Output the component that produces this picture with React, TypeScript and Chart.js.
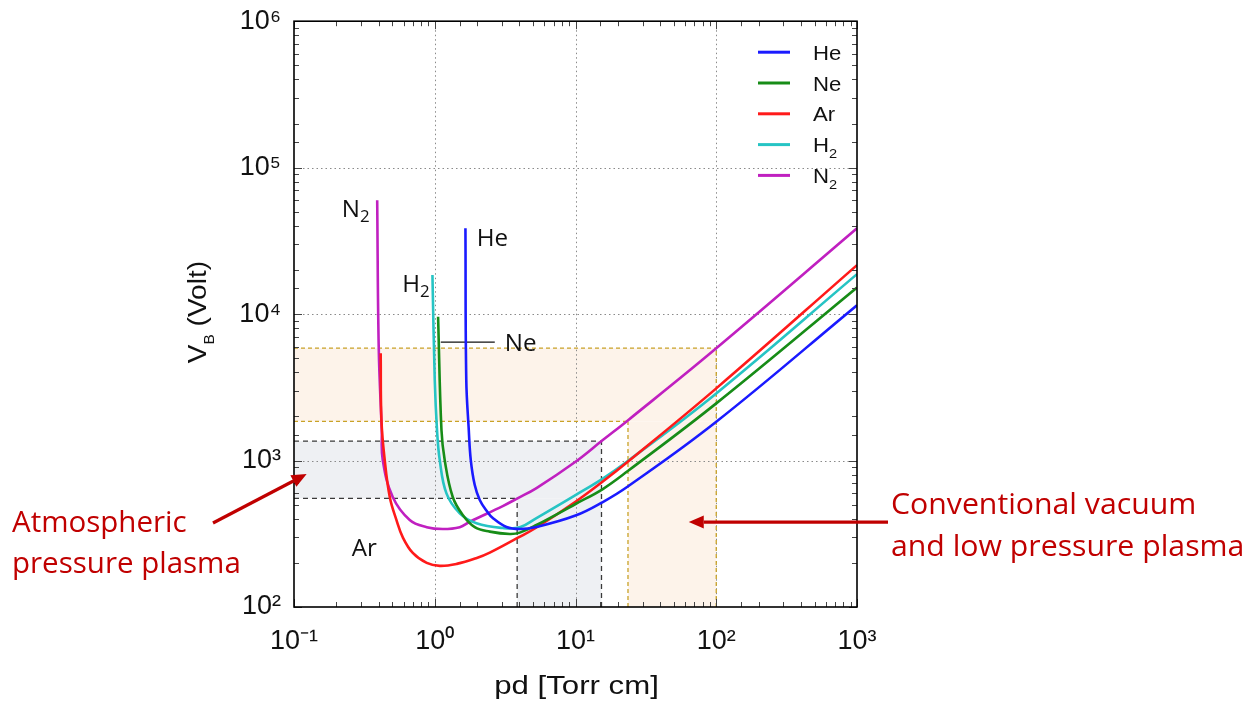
import React, { useEffect, useRef } from "react";
import { Chart, registerables } from "chart.js";

Chart.register(...registerables);

// ---------- data ----------
const gasLabels = ["He", "Ne", "Ar", "H₂", "N₂"];
const gasColors = ["#1a1aff", "#178c17", "#ff1a1a", "#26c4c4", "#c020c0"];

const heX = [1.652, 1.675, 1.745, 1.803, 1.924, 2.088, 2.342, 2.584, 3.233, 4.019, 5.283, 10, 15.63, 23.53, 100, 1000];
const heY = [38500, 3545, 1615, 1008, 680, 538, 452, 405, 352, 341, 352, 421, 521, 665, 1840, 11500];

const neX = [1.056, 1.116, 1.178, 1.342, 1.581, 1.924, 2.46, 3.413, 4.019, 5.283, 10, 15.63, 23.53, 100, 1000];
const neY = [9600, 1615, 1000, 564, 425, 351, 327, 315, 322, 363, 505, 639, 848, 2457, 15200];

const arX = [0.413, 0.418, 0.441, 0.479, 0.534, 0.592, 0.698, 0.877, 1.085, 1.433, 1.99, 2.46, 3.87, 5.283, 10, 15.63, 23.53, 100, 1000];
const arY = [5400, 1890, 1010, 564, 393, 300, 234, 200, 191, 197, 216, 235, 296, 349, 523, 719, 981, 3110, 21600];

const h2X = [0.963, 1.0, 1.038, 1.085, 1.211, 1.505, 1.979, 3.043, 4.019, 5.283, 10, 15.63, 23.53, 100, 1000];
const h2Y = [18500, 3545, 1615, 1008, 597, 436, 373, 346, 350, 405, 581, 753, 992, 2875, 18750];

const n2X = [0.39, 0.4, 0.42, 0.427, 0.503, 0.664, 0.877, 1.14, 1.505, 1.774, 3.043, 3.87, 5.283, 10, 15.63, 23.53, 100, 1000];
const n2Y = [60000, 5860, 1615, 1008, 564, 393, 351, 341, 351, 382, 489, 552, 649, 981, 1380, 1880, 5840, 38500];

const seriesX = [heX, neX, arX, h2X, n2X];
const seriesY = [heY, neY, arY, h2Y, n2Y];

// axis ranges
const xRange = [0.1, 1000];
const yRange = [100, 1e6];

// highlighted regions (data units)
const vacuumBandX = [0.1, 100];
const vacuumBandY = [1850, 5850];
const vacuumColX = [23.6, 100];
const vacuumColY = [100, 1850];
const atmBandX = [0.1, 15.3];
const atmBandY = [552, 1358];
const atmColX = [3.85, 15.3];
const atmColY = [100, 552];

// curve labels: [text, x, y, align]
const curveLabels: [string, number, number, string][] = [
  ["N₂", 0.345, 52900, "right"],
  ["H₂", 0.922, 16280, "right"],
  ["He", 1.99, 33500, "left"],
  ["Ne", 3.145, 6440, "left"],
  ["Ar", 0.257, 253, "left"],
];
const nePointerX = [1.103, 2.67];
const nePointerY = 6440;

const atmArrowTip = [0.123, 809];
const vacArrowTip = [63.8, 380];

const atmText = ["Atmospheric", "pressure plasma"];
const vacText = ["Conventional vacuum", "and low pressure plasma"];

const xTitle = "pd [Torr cm]";

// ---------- helpers ----------
const SUB = "₀₁₂₃₄₅₆₇₈₉";
const SUP: Record<string, string> = { "-": "⁻", "0": "⁰", "1": "¹", "2": "²", "3": "³", "4": "⁴", "5": "⁵", "6": "⁶", "7": "⁷", "8": "⁸", "9": "⁹" };

type Part = { t: string; sub?: boolean };

function toParts(text: string): Part[] {
  const out: Part[] = [];
  for (const ch of text) {
    const i = SUB.indexOf(ch);
    const sub = i >= 0;
    const c = sub ? String(i) : ch;
    const last = out[out.length - 1];
    if (last && !!last.sub === sub) last.t += c;
    else out.push({ t: c, sub });
  }
  return out;
}

function drawRich(
  ctx: CanvasRenderingContext2D,
  parts: Part[],
  x: number,
  y: number,
  size: number,
  family: string,
  color: string,
  align: string = "left",
  sx: number = 1,
  subScale: number = 0.62,
  subDrop: number = 0.28
) {
  ctx.save();
  ctx.fillStyle = color;
  ctx.textBaseline = "alphabetic";
  ctx.textAlign = "left";
  const fonts = parts.map((p) => `${p.sub ? size * subScale : size}px ${family}`);
  const widths = parts.map((p, i) => {
    ctx.font = fonts[i];
    return ctx.measureText(p.t).width * sx;
  });
  const total = widths.reduce((a, b) => a + b, 0);
  let cx = align === "left" ? x : align === "right" ? x - total : x - total / 2;
  parts.forEach((p, i) => {
    ctx.font = fonts[i];
    ctx.save();
    ctx.translate(cx, y + (p.sub ? size * subDrop : 0));
    ctx.scale(sx, 1);
    ctx.fillText(p.t, 0, 0);
    ctx.restore();
    cx += widths[i];
  });
  ctx.restore();
}

function supLabel(v: number): string {
  const l = Math.log10(v);
  const e = Math.round(l);
  if (Math.abs(l - e) > 1e-6) return "";
  return "10" + String(e).split("").map((c) => SUP[c]).join("");
}

function arrow(ctx: CanvasRenderingContext2D, x0: number, y0: number, x1: number, y1: number, color: string) {
  const ang = Math.atan2(y1 - y0, x1 - x0);
  const hl = 15, hw = 6.5;
  const bx = x1 - hl * Math.cos(ang), by = y1 - hl * Math.sin(ang);
  ctx.save();
  ctx.strokeStyle = color;
  ctx.fillStyle = color;
  ctx.lineWidth = 3.2;
  ctx.beginPath();
  ctx.moveTo(x0, y0);
  ctx.lineTo(bx, by);
  ctx.stroke();
  ctx.beginPath();
  ctx.moveTo(x1, y1);
  ctx.lineTo(bx + hw * Math.sin(ang), by - hw * Math.cos(ang));
  ctx.lineTo(bx - hw * Math.sin(ang), by + hw * Math.cos(ang));
  ctx.closePath();
  ctx.fill();
  ctx.restore();
}

const SANS = "'Liberation Sans', Arial, sans-serif";
const CAL = "'Open Sans', sans-serif";
const DARKRED = "#c00000";

const annotPlugin = {
  id: "annot",
  beforeDatasetsDraw(chart: any) {
    const { ctx, chartArea: a, scales } = chart;
    const X = (v: number) => scales.x.getPixelForValue(v);
    const Y = (v: number) => scales.y.getPixelForValue(v);
    ctx.save();
    ctx.beginPath();
    ctx.rect(a.left, a.top, a.right - a.left, a.bottom - a.top);
    ctx.clip();
    const box = (bx: number[], by: number[], c: string) => {
      ctx.fillStyle = c;
      const x0 = X(bx[0]), x1 = X(bx[1]), y0 = Y(by[1]), y1 = Y(by[0]);
      ctx.fillRect(x0, y0, x1 - x0, y1 - y0);
    };
    box(vacuumBandX, vacuumBandY, "#fdf3ea");
    box(vacuumColX, vacuumColY, "#fdf3ea");
    box(atmBandX, atmBandY, "#eef0f3");
    box(atmColX, atmColY, "#eef0f3");

    // dotted major grid
    ctx.strokeStyle = "#8a8a8a";
    ctx.lineWidth = 1;
    ctx.setLineDash([1.5, 3]);
    scales.x.ticks.forEach((t: any) => {
      if (!supLabel(t.value) || t.value <= xRange[0] || t.value >= xRange[1]) return;
      const px = Math.round(X(t.value)) + 0.5;
      ctx.beginPath();
      ctx.moveTo(px, a.top);
      ctx.lineTo(px, a.bottom);
      ctx.stroke();
    });
    scales.y.ticks.forEach((t: any) => {
      if (!supLabel(t.value) || t.value <= yRange[0] || t.value >= yRange[1]) return;
      const py = Math.round(Y(t.value)) + 0.5;
      ctx.beginPath();
      ctx.moveTo(a.left, py);
      ctx.lineTo(a.right, py);
      ctx.stroke();
    });

    const seg = (x0: number, y0: number, x1: number, y1: number) => {
      ctx.beginPath();
      ctx.moveTo(X(x0), Y(y0));
      ctx.lineTo(X(x1), Y(y1));
      ctx.stroke();
    };
    // gold dashed (vacuum)
    ctx.strokeStyle = "#c9a227";
    ctx.lineWidth = 1.3;
    ctx.setLineDash([4, 3]);
    seg(vacuumBandX[0], vacuumBandY[1], vacuumBandX[1], vacuumBandY[1]);
    seg(vacuumBandX[0], vacuumBandY[0], vacuumColX[0], vacuumBandY[0]);
    seg(vacuumColX[0], vacuumColY[0], vacuumColX[0], vacuumBandY[0]);
    seg(vacuumColX[1], vacuumColY[0], vacuumColX[1], vacuumBandY[1]);
    // black dashed (atmospheric)
    ctx.strokeStyle = "#3a3a3a";
    ctx.lineWidth = 1.3;
    ctx.setLineDash([5, 4]);
    seg(atmBandX[0], atmBandY[1], atmBandX[1], atmBandY[1]);
    seg(atmBandX[0], atmBandY[0], atmColX[0], atmBandY[0]);
    seg(atmColX[0], atmColY[0], atmColX[0], atmBandY[0]);
    seg(atmColX[1], atmColY[0], atmColX[1], atmBandY[1]);
    ctx.setLineDash([]);

    // Ne pointer
    ctx.strokeStyle = "#111";
    ctx.lineWidth = 1.3;
    seg(nePointerX[0], nePointerY, nePointerX[1], nePointerY);
    ctx.restore();
  },
  afterDatasetsDraw(chart: any) {
    const { ctx, chartArea: a, scales } = chart;
    const X = (v: number) => scales.x.getPixelForValue(v);
    const Y = (v: number) => scales.y.getPixelForValue(v);
    ctx.save();
    // tick marks (inside, all four sides)
    ctx.strokeStyle = "#444";
    ctx.lineWidth = 1;
    scales.x.ticks.forEach((t: any) => {
      const px = Math.round(X(t.value)) + 0.5;
      const len = supLabel(t.value) ? 8 : 5;
      ctx.beginPath();
      ctx.moveTo(px, a.bottom);
      ctx.lineTo(px, a.bottom - len);
      ctx.moveTo(px, a.top);
      ctx.lineTo(px, a.top + len);
      ctx.stroke();
    });
    scales.y.ticks.forEach((t: any) => {
      const py = Math.round(Y(t.value)) + 0.5;
      const len = supLabel(t.value) ? 8 : 5;
      ctx.beginPath();
      ctx.moveTo(a.left, py);
      ctx.lineTo(a.left + len, py);
      ctx.moveTo(a.right, py);
      ctx.lineTo(a.right - len, py);
      ctx.stroke();
    });
    // frame
    ctx.strokeStyle = "#000";
    ctx.lineWidth = 1.6;
    ctx.strokeRect(a.left, a.top, a.right - a.left, a.bottom - a.top);

    // legend
    const ds = chart.data.datasets;
    ds.forEach((d: any, i: number) => {
      const cy = a.top + 31 + i * 30.8;
      ctx.strokeStyle = d.borderColor;
      ctx.lineWidth = 3;
      ctx.beginPath();
      ctx.moveTo(a.right - 99, cy);
      ctx.lineTo(a.right - 67, cy);
      ctx.stroke();
      drawRich(ctx, toParts(d.label), a.right - 44, cy + 7.5, 20.5, SANS, "#111", "left", 1.08, 0.66, 0.3);
    });

    // curve labels
    curveLabels.forEach(([t, vx, vy, al]) => {
      drawRich(ctx, toParts(t), X(vx), Y(vy) + 8.5, 23, CAL, "#111", al, 1.05, 0.7, 0.25);
    });

    // red annotations
    const tipA = [X(atmArrowTip[0]), Y(atmArrowTip[1])];
    arrow(ctx, 213, 523, tipA[0], tipA[1], DARKRED);
    const tipV = [X(vacArrowTip[0]), Y(vacArrowTip[1])];
    arrow(ctx, 888, tipV[1], tipV[0], tipV[1], DARKRED);
    atmText.forEach((t, i) => drawRich(ctx, [{ t }], 12, 532 + i * 41, 29.5, CAL, DARKRED, "left"));
    vacText.forEach((t, i) => drawRich(ctx, [{ t }], 891, 514 + i * 42, 29.5, CAL, DARKRED, "left", 1.025));

    // axis titles
    const cx = (a.left + a.right) / 2;
    drawRich(ctx, [{ t: xTitle }], cx + 1, 694, 26, SANS, "#111", "center", 1.2);
    ctx.save();
    ctx.translate(206, (a.top + a.bottom) / 2 - 2);
    ctx.rotate(-Math.PI / 2);
    drawRich(ctx, [{ t: "V" }, { t: "B", sub: true }, { t: " (Volt)" }], 0, 0, 26, SANS, "#111", "center", 1.08, 0.55, 0.3);
    ctx.restore();
    ctx.restore();
  },
};

export default function App() {
  const ref = useRef<HTMLCanvasElement | null>(null);
  useEffect(() => {
    if (!ref.current) return;
    const datasets = gasLabels.map((label, i) => ({
      label,
      data: seriesX[i].map((x, j) => ({ x, y: seriesY[i][j] })),
      borderColor: gasColors[i],
      backgroundColor: gasColors[i],
      borderWidth: 2.6,
      pointRadius: 0,
      fill: false,
      tension: 0.4,
    }));
    const chart = new Chart(ref.current, {
      type: "line",
      data: { datasets },
      plugins: [annotPlugin],
      options: {
        animation: false,
        responsive: false,
        maintainAspectRatio: false,
        devicePixelRatio: 1,
        layout: { padding: { left: 180, right: 398, top: 21, bottom: 0 } },
        plugins: { legend: { display: false }, tooltip: { enabled: false } },
        scales: {
          x: {
            type: "logarithmic",
            min: xRange[0],
            max: xRange[1],
            grid: { display: false },
            border: { display: false },
            ticks: {
              autoSkip: false,
              maxRotation: 0,
              padding: 10,
              color: "#111",
              font: { family: SANS, size: 27 },
              callback: (v: any) => supLabel(Number(v)),
            },
            afterFit: (s: any) => {
              s.height = 95;
            },
          },
          y: {
            type: "logarithmic",
            min: yRange[0],
            max: yRange[1],
            grid: { display: false },
            border: { display: false },
            ticks: {
              autoSkip: false,
              padding: 5,
              color: "#111",
              font: { family: SANS, size: 27 },
              callback: (v: any) => supLabel(Number(v)),
            },
            afterFit: (s: any) => {
              s.width = 114;
            },
          },
        },
      } as any,
    });
    return () => chart.destroy();
  }, []);
  return (
    <div style={{ position: "absolute", left: 0, top: 0, width: 1255, height: 702, background: "#fff" }}>
      <canvas ref={ref} width={1255} height={702} style={{ width: 1255, height: 702, display: "block" }} />
    </div>
  );
}
